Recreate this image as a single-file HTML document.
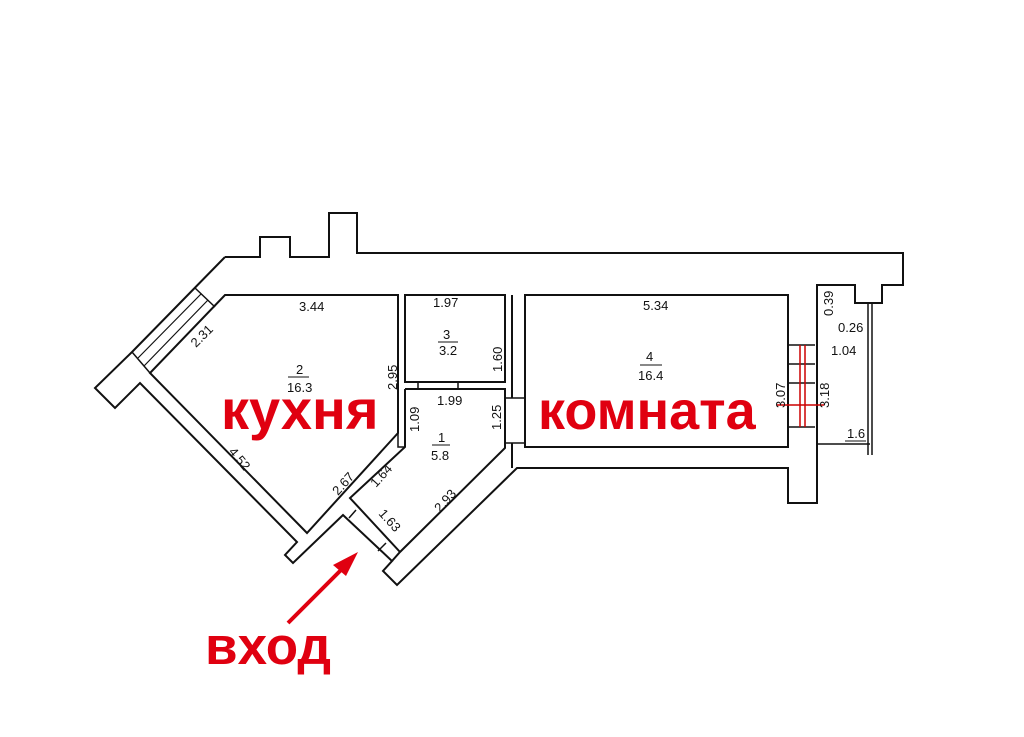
<!DOCTYPE html>
<html><head><meta charset="utf-8"><style>
html,body{margin:0;padding:0;background:#fff;}
svg{display:block;}
text{font-family:"Liberation Sans",sans-serif;}
</style></head><body>
<svg width="1024" height="737" viewBox="0 0 1024 737" xmlns="http://www.w3.org/2000/svg">
<rect width="1024" height="737" fill="#fff"/>
<g fill="none" stroke="#111" stroke-width="2" stroke-linejoin="miter">
<!-- outer -->
<path d="M225,257 L260,257 L260,237 L290,237 L290,257 L329,257 L329,213 L357,213 L357,253 L903,253 L903,285 L882,285 L882,303 L855,303 L855,285 L817,285 L817,503 L788,503 L788,468 L517,468 L397,585 L383,571 L392,561 L343,515 L293,563 L285,555 L297,542 L140,383 L115,408 L95,388 L132,352 L225,257"/>
<!-- kitchen inner -->
<path d="M225,295 L398,295 L398,433 L307,533 L150,373 Z"/>
<!-- window kitchen -->
<path d="M195,288 L215,307 M132,352 L150,373" stroke-width="1.5"/>
<path d="M201,294 L138,358 M208,300 L144,366" stroke-width="1.2"/>
<!-- room 3 -->
<path d="M405,295 L505,295 L505,382 L405,382 Z"/>
<path d="M418,382 L418,389 M458,382 L458,389" stroke-width="1.5"/>
<!-- room 1 -->
<path d="M405,389 L505,389 L505,448 L400,552 L392,561 M405,389 L405,447 L350,498 L400,552"/>
<path d="M398,433 L398,447 L405,447" stroke-width="1.5"/>
<!-- door ticks -->
<path d="M356,510 L349,518 M386,543 L378,551" stroke-width="1.5"/>
<!-- passage 1 to 4 -->
<path d="M505,398 L525,398 M505,443 L525,443" stroke-width="1.5"/>
<path d="M512,295 L512,398 M512,443 L512,468" stroke-width="2"/>
<!-- room 4 -->
<path d="M525,295 L788,295 L788,447 L525,447 Z"/>
<!-- balcony door -->
<path d="M788,345 L815,345 M788,364 L815,364 M788,383 L815,383 M788,427 L815,427" stroke-width="1.5"/>
<!-- balcony -->
<path d="M817,444 L870,444 M868,303 L868,455 M872,303 L872,455" stroke-width="1.5"/>
</g>
<g stroke="#c00" stroke-width="1.5">
<line x1="800" y1="345" x2="800" y2="427"/><line x1="805" y1="345" x2="805" y2="427"/>
<line x1="777" y1="405" x2="824" y2="405"/>
</g>
<g fill="#111" font-size="13">
<text x="299" y="311">3.44</text>
<text x="433" y="307">1.97</text>
<text x="443" y="339">3</text><line x1="438" y1="342" x2="458" y2="342" stroke="#111"/>
<text x="439" y="355">3.2</text>
<text x="296" y="374">2</text><line x1="288" y1="377" x2="309" y2="377" stroke="#111"/>
<text x="287" y="392">16.3</text>
<text x="437" y="405">1.99</text>
<text x="438" y="442">1</text><line x1="432" y1="445" x2="450" y2="445" stroke="#111"/>
<text x="431" y="460">5.8</text>
<text x="643" y="310">5.34</text>
<text x="646" y="361">4</text><line x1="640" y1="365" x2="662" y2="365" stroke="#111"/>
<text x="638" y="380">16.4</text>
<text x="838" y="332">0.26</text>
<text x="831" y="355">1.04</text>
<text x="847" y="438">1.6</text>
<line x1="845" y1="441" x2="866" y2="441" stroke="#111"/>
<text transform="translate(502,372) rotate(-90)">1.60</text>
<text transform="translate(397,390) rotate(-90)">2.95</text>
<text transform="translate(419,432) rotate(-90)">1.09</text>
<text transform="translate(501,430) rotate(-90)">1.25</text>
<text transform="translate(785,408) rotate(-90)">3.07</text>
<text transform="translate(829,408) rotate(-90)">3.18</text>
<text transform="translate(833,316) rotate(-90)">0.39</text>
<text transform="translate(196,348) rotate(-45)">2.31</text>
<text transform="translate(228,452) rotate(50)">4.52</text>
<text transform="translate(338,496) rotate(-48)">2.67</text>
<text transform="translate(376,488) rotate(-48)">1.64</text>
<text transform="translate(440,513) rotate(-48)">2.93</text>
<text transform="translate(378,514) rotate(48)">1.63</text>
</g>
<g fill="#e00010" font-weight="bold" font-family="Liberation Sans,sans-serif">
<text x="221" y="429" font-size="56">кухня</text>
<text x="538" y="429" font-size="54">комната</text>
<text x="205" y="664" font-size="53">вход</text>
</g>
<line x1="288" y1="623" x2="348" y2="563" stroke="#e00010" stroke-width="4"/>
<polygon points="358,552 333,565 346,576" fill="#e00010"/>
</svg>
</body></html>
